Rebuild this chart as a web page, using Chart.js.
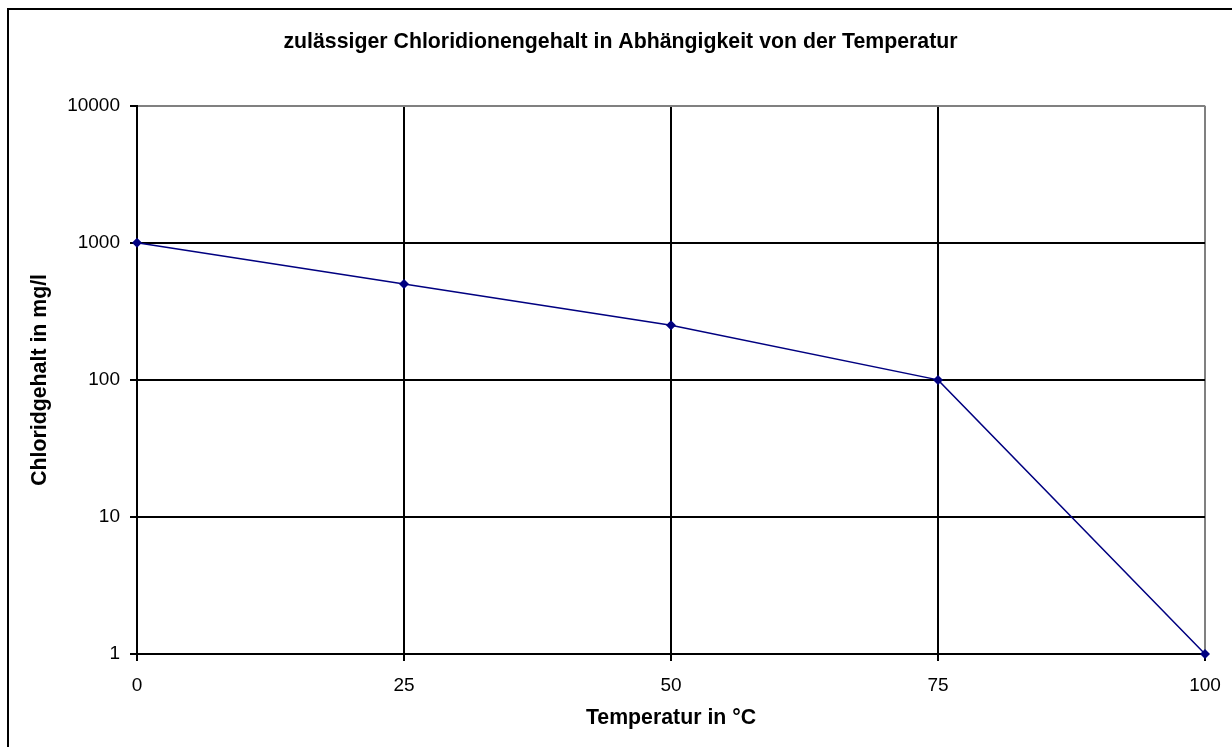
<!DOCTYPE html>
<html>
<head>
<meta charset="utf-8">
<script src="https://cdn.jsdelivr.net/npm/chart.js@4/dist/chart.umd.min.js"></script>
<style>
html,body{margin:0;padding:0;background:#fff;}
canvas{display:block;}
</style>
</head>
<body>
<canvas id="c" width="1232" height="747"></canvas>
<script>
const temperatures = [0, 25, 50, 75, 100];
const chloride = [1000, 500, 250, 100, 1];
const xTicks = [0, 25, 50, 75, 100];
const yTicks = [1, 10, 100, 1000, 10000];
const chartTitle = 'zulässiger Chloridionengehalt in Abhängigkeit von der Temperatur';
const xTitle = 'Temperatur in °C';
const yTitle = 'Chloridgehalt in mg/l';

const FONT = "'Liberation Sans', Arial, sans-serif";

const framePlugin = {
  id: 'frame',
  beforeDraw(chart) {
    const ctx = chart.ctx;
    ctx.save();
    ctx.fillStyle = '#fff';
    ctx.fillRect(0, 0, chart.width, chart.height);
    ctx.strokeStyle = '#000';
    ctx.lineWidth = 2;
    ctx.strokeRect(8, 9, chart.width + 50, chart.height + 50);
    ctx.restore();
  }
};

new Chart(document.getElementById('c'), {
  type: 'line',
  data: {
    datasets: [{
      data: temperatures.map((t, i) => ({x: t, y: chloride[i]})),
      borderColor: '#000080',
      backgroundColor: '#000080',
      borderWidth: 1.5,
      pointStyle: 'rectRot',
      pointRadius: 5,
      pointBorderWidth: 0,
      pointBackgroundColor: '#000080',
      tension: 0,
      clip: false,
      yAxisID: 'y'
    }]
  },
  options: {
    responsive: false,
    devicePixelRatio: 1,
    animation: false,
    layout: {padding: {left: 9, right: 0, top: 0, bottom: 0}},
    plugins: {
      legend: {display: false},
      tooltip: {enabled: false},
      title: {
        display: true,
        text: chartTitle,
        color: '#000',
        font: {family: FONT, size: 21.3, weight: 'bold', lineHeight: 1.2},
        padding: {top: 29, bottom: 51.2}
      }
    },
    scales: {
      x: {
        type: 'linear',
        min: 0, max: 100,
        afterBuildTicks(s) { s.ticks = xTicks.map(v => ({value: v})); },
        afterFit(s) { s.height = 93; s.paddingLeft = 0; s.paddingRight = 0; },
        ticks: {
          color: '#000',
          font: {family: FONT, size: 19},
          padding: 13,
          maxRotation: 0,
          callback: v => String(v)
        },
        grid: {
          color: c => (c.tick && c.tick.value === 100) ? '#808080' : '#000',
          tickColor: '#000',
          lineWidth: 2,
          tickLength: 7
        },
        border: {display: true, color: '#000', width: 2},
        title: {
          display: true,
          text: xTitle,
          color: '#000',
          font: {family: FONT, size: 21.3, weight: 'bold'},
          padding: {top: 0, bottom: 16.2}
        }
      },
      y: {
        type: 'logarithmic',
        position: 'left',
        min: 1, max: 10000,
        afterBuildTicks(s) { s.ticks = yTicks.map(v => ({value: v})); },
        afterFit(s) { s.width = 128; s.paddingTop = 0; s.paddingBottom = 0; },
        ticks: {
          color: '#000',
          font: {family: FONT, size: 19},
          padding: 10,
          callback: v => String(v)
        },
        grid: {
          color: c => (c.tick && c.tick.value === 10000) ? '#808080' : '#000',
          tickColor: '#000',
          lineWidth: 2,
          tickLength: 7
        },
        border: {display: true, color: '#000', width: 2},
        title: {
          display: true,
          text: yTitle,
          color: '#000',
          font: {family: FONT, size: 21.3, weight: 'bold'},
          padding: {top: 18.7, bottom: 0}
        }
      },
      spacer: {
        type: 'linear',
        position: 'right',
        display: true,
        afterFit(s) { s.width = 27; s.paddingTop = 0; s.paddingBottom = 0; },
        ticks: {display: false},
        grid: {display: false, drawTicks: false},
        border: {display: false}
      }
    }
  },
  plugins: [framePlugin]
});
</script>
</body>
</html>
